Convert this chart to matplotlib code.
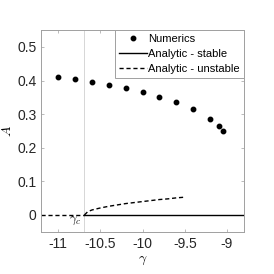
import numpy as np
import matplotlib.pyplot as plt

plt.rcParams['font.family'] = ['Liberation Sans', 'DejaVu Sans']
plt.rcParams['mathtext.fontset'] = 'cm'

# numerics
gam_num = [-11.0, -10.8, -10.6, -10.4, -10.2, -10.0, -9.8, -9.6, -9.4, -9.2, -9.1, -9.05]
A_num = [0.410, 0.404, 0.396, 0.387, 0.377, 0.366, 0.352, 0.336, 0.315, 0.287, 0.266, 0.250]

# critical point
gam_c = -10.69

# analytic branches
gam_stable = [gam_c, -8.8]
A_stable = [0.0, 0.0]
gam_unst0 = [-11.2, gam_c]
A_unst0 = [0.0, 0.0]
gam_unst = [-10.69, -10.65, -10.6, -10.5, -10.4, -10.3, -10.2, -10.1, -10.0, -9.9, -9.8, -9.7, -9.6, -9.5]
A_unst = [0.0, 0.010, 0.015, 0.021, 0.026, 0.030, 0.034, 0.037, 0.040, 0.043, 0.046, 0.048, 0.051, 0.053]

fig = plt.figure(figsize=(2.74, 2.74), dpi=100)
ax = fig.add_axes([0.151, 0.154, 0.739, 0.736])

ax.axvline(gam_c, color='#d0d0d0', lw=0.6, zorder=0)
ax.plot(gam_num, A_num, 'o', color='k', ms=3.2, label='Numerics')
ax.plot(gam_stable, A_stable, '-', color='k', lw=1, label='Analytic - stable')
ax.plot(gam_unst, A_unst, '--', color='k', lw=1, dashes=(3, 2), label='Analytic - unstable')
ax.plot(gam_unst0, A_unst0, '--', color='k', lw=1, dashes=(3, 2))

ax.text(gam_c - 0.04, -0.035, r'$\gamma_c$', ha='right', va='bottom', fontsize=9)

ax.set_xlim(-11.2, -8.8)
ax.set_ylim(-0.05, 0.55)
ax.set_xticks([-11, -10.5, -10, -9.5, -9])
ax.set_xticklabels(['-11', '-10.5', '-10', '-9.5', '-9'])
ax.set_yticks([0, 0.1, 0.2, 0.3, 0.4, 0.5])
ax.set_yticklabels(['0', '0.1', '0.2', '0.3', '0.4', '0.5'])
ax.tick_params(direction='in', length=2, width=0.5, color='#a0a0a0', labelsize=10,
               labelcolor='#262626', top=True, right=True)
for s in ax.spines.values():
    s.set_color('#a0a0a0')
    s.set_linewidth(0.7)

ax.set_xlabel(r'$\gamma$', fontsize=10, labelpad=2)
ax.set_ylabel(r'$A$', fontsize=10, labelpad=2)

leg = ax.legend(loc='upper right', fontsize=8, handlelength=2.5, handletextpad=0.15,
                borderaxespad=0, borderpad=0.35, labelspacing=0.45, fancybox=False,
                framealpha=1)
leg.get_frame().set_edgecolor('#a0a0a0')
leg.get_frame().set_linewidth(0.7)

fig.savefig('out.png', dpi=100)
